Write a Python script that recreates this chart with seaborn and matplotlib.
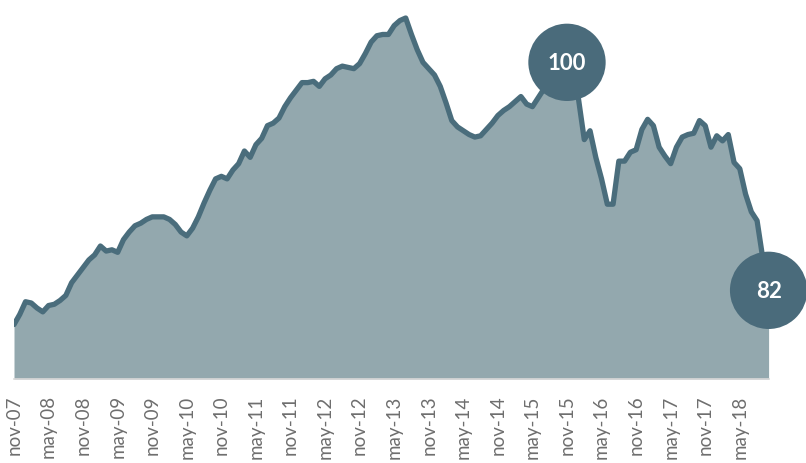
import matplotlib
matplotlib.use("Agg")
import matplotlib.pyplot as plt
import seaborn as sns
import pandas as pd
import numpy as np

# Monthly index values, nov-07 .. oct-18
values = [
    79.3, 80.1, 81.1, 81.0, 80.6, 80.3, 80.8, 80.9, 81.2, 81.6,
    82.6, 83.2, 83.8, 84.4, 84.8, 85.5, 85.1, 85.2, 85.0, 86.0,
    86.6, 87.1, 87.3, 87.6, 87.8, 87.8, 87.8, 87.6, 87.2, 86.6,
    86.3, 86.9, 87.8, 88.9, 89.9, 90.8, 91.0, 90.8, 91.5, 92.0,
    93.0, 92.5, 93.5, 94.0, 95.0, 95.2, 95.6, 96.5, 97.2, 97.8,
    98.4, 98.4, 98.5, 98.1, 98.7, 99.0, 99.5, 99.7, 99.6, 99.5,
    99.9, 100.7, 101.6, 102.1, 102.2, 102.2, 102.9, 103.3, 103.5, 102.2,
    101.0, 100.0, 99.5, 99.0, 98.1, 96.8, 95.4, 94.9, 94.6, 94.3,
    94.1, 94.2, 94.7, 95.2, 95.8, 96.2, 96.5, 96.9, 97.3, 96.7,
    96.5, 97.2, 97.9, 98.5, 99.2, 99.6, 100.0, 98.6, 97.1, 93.9,
    94.6, 92.5, 90.8, 88.8, 88.8, 92.2, 92.2, 92.9, 93.1, 94.7,
    95.5, 95.0, 93.3, 92.6, 92.0, 93.3, 94.1, 94.3, 94.4, 95.4,
    95.0, 93.3, 94.2, 93.8, 94.3, 92.1, 91.6, 89.6, 88.2, 87.5,
    84.5, 82.0,
]
tick_labels = ["nov-07", "may-08", "nov-08", "may-09", "nov-09", "may-10",
               "nov-10", "may-11", "nov-11", "may-12", "nov-12", "may-13",
               "nov-13", "may-14", "nov-14", "may-15", "nov-15", "may-16",
               "nov-16", "may-17", "nov-17", "may-18"]
highlight_idx = [96, 131]
highlight_labels = ["100", "82"]

LINE = "#4a6d7c"
FILL = "#93a8ae"
CIRCLE = "#4a6b7b"

df = pd.DataFrame({"t": np.arange(len(values)), "v": values})

sns.set_theme(style="white")
plt.rcParams["font.family"] = ["Lato", "DejaVu Sans"]

fig = plt.figure(figsize=(8.06, 4.64), dpi=100)
ax = fig.add_axes([14 / 806, 84 / 464, (768.6 - 14) / 806, 380 / 464])

ax.fill_between(df["t"], df["v"], 75, color=FILL, linewidth=0, zorder=1)
sns.lineplot(data=df, x="t", y="v", ax=ax, color=LINE, linewidth=3.8,
             zorder=2, solid_joinstyle="round", solid_capstyle="round")

hl = df.iloc[highlight_idx]
sns.scatterplot(data=hl, x="t", y="v", ax=ax, s=3100, color=CIRCLE,
                edgecolor="none", zorder=3, clip_on=False, legend=False)
for (t, v), lab in zip(hl[["t", "v"]].values, highlight_labels):
    ax.text(t, v, lab, ha="center", va="center", color="white",
            fontsize=16, fontweight="bold", zorder=4)

ax.set_xlim(0, len(values) - 1)
ax.set_ylim(75, 105)
ax.set_xticks(np.arange(0, 6 * len(tick_labels), 6))
ax.set_xticklabels(tick_labels, rotation=90, color="#6e6e6e", fontsize=13.5)
ax.set_yticks([])
ax.tick_params(axis="x", length=0, pad=11)
ax.set_xlabel("")
ax.set_ylabel("")
for s in ["top", "left", "right"]:
    ax.spines[s].set_visible(False)
ax.spines["bottom"].set_color("#d9d9d9")
ax.spines["bottom"].set_linewidth(1.2)
ax.set_facecolor("white")

fig.savefig("out.png", dpi=100, facecolor="white")
